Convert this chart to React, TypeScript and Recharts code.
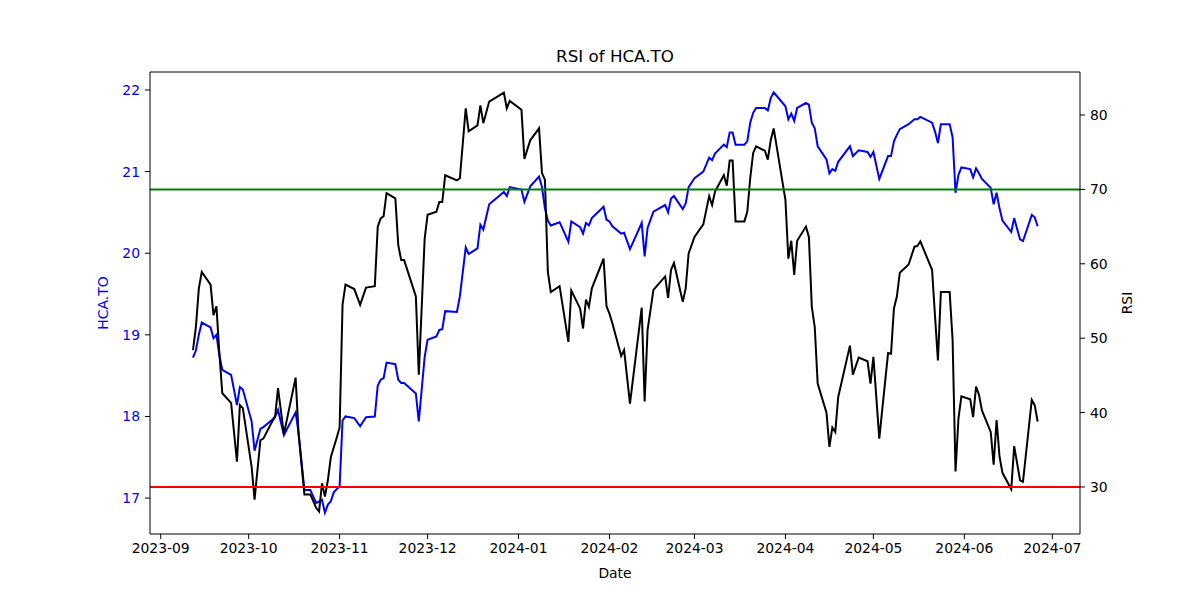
import React from 'react';
import { ComposedChart, Line, XAxis, YAxis, ReferenceLine } from 'recharts';

const dates = [
  '2023-09-12','2023-09-13','2023-09-14','2023-09-15','2023-09-18','2023-09-19','2023-09-20','2023-09-21','2023-09-22','2023-09-25','2023-09-27','2023-09-28','2023-09-29',
  '2023-10-02','2023-10-03','2023-10-05','2023-10-06','2023-10-09','2023-10-10','2023-10-11','2023-10-13','2023-10-17','2023-10-18','2023-10-20','2023-10-22','2023-10-24','2023-10-25','2023-10-26','2023-10-27','2023-10-28','2023-10-29','2023-10-30','2023-10-31',
  '2023-11-01','2023-11-02','2023-11-03','2023-11-06','2023-11-08','2023-11-10','2023-11-13','2023-11-14','2023-11-15','2023-11-16','2023-11-17','2023-11-20','2023-11-21','2023-11-22','2023-11-23','2023-11-27','2023-11-28','2023-11-30',
  '2023-12-01','2023-12-04','2023-12-05','2023-12-06','2023-12-07','2023-12-11','2023-12-12','2023-12-14','2023-12-15','2023-12-18','2023-12-19','2023-12-20','2023-12-22','2023-12-27','2023-12-28','2023-12-29',
  '2024-01-02','2024-01-03','2024-01-05','2024-01-08','2024-01-09','2024-01-10','2024-01-11','2024-01-12','2024-01-15','2024-01-18','2024-01-19','2024-01-22','2024-01-23','2024-01-24','2024-01-25','2024-01-26','2024-01-30','2024-01-31',
  '2024-02-01','2024-02-02','2024-02-05','2024-02-06','2024-02-08','2024-02-12','2024-02-13','2024-02-14','2024-02-16','2024-02-20','2024-02-21','2024-02-22','2024-02-23','2024-02-26','2024-02-27','2024-02-28',
  '2024-03-01','2024-03-04','2024-03-06','2024-03-07','2024-03-08','2024-03-11','2024-03-12','2024-03-13','2024-03-14','2024-03-15','2024-03-18','2024-03-19','2024-03-20','2024-03-21','2024-03-22','2024-03-25','2024-03-26','2024-03-27','2024-03-28',
  '2024-04-01','2024-04-02','2024-04-03','2024-04-04','2024-04-05','2024-04-08','2024-04-09','2024-04-10','2024-04-11','2024-04-12','2024-04-15','2024-04-16','2024-04-17','2024-04-18','2024-04-19','2024-04-23','2024-04-24','2024-04-26','2024-04-29','2024-04-30',
  '2024-05-01','2024-05-03','2024-05-06','2024-05-07','2024-05-08','2024-05-09','2024-05-10','2024-05-13','2024-05-15','2024-05-16','2024-05-17','2024-05-21','2024-05-22','2024-05-23','2024-05-24','2024-05-27','2024-05-28','2024-05-29','2024-05-30','2024-05-31',
  '2024-06-03','2024-06-04','2024-06-05','2024-06-06','2024-06-07','2024-06-10','2024-06-11','2024-06-12','2024-06-13','2024-06-14','2024-06-17','2024-06-18','2024-06-20','2024-06-21','2024-06-24','2024-06-25','2024-06-26',
];

const closePrice = [
  18.72,18.81,19.0,19.15,19.09,18.96,19.0,18.75,18.57,18.51,18.14,18.36,18.33,
  17.94,17.58,17.85,17.87,17.96,18.0,18.08,17.77,18.05,17.8,17.1,17.1,16.94,16.96,16.98,16.82,16.92,16.96,17.07,17.11,
  17.14,17.95,18.0,17.98,17.88,17.99,18.0,18.38,18.45,18.47,18.66,18.64,18.45,18.41,18.41,18.28,17.94,18.73,
  18.94,18.98,19.06,19.07,19.29,19.28,19.47,20.07,19.99,20.06,20.35,20.29,20.6,20.75,20.7,20.81,
  20.78,20.63,20.82,20.94,20.81,20.55,20.4,20.34,20.38,20.14,20.39,20.32,20.24,20.37,20.34,20.43,20.57,20.41,
  20.39,20.33,20.24,20.25,20.05,20.37,19.96,20.31,20.51,20.59,20.5,20.67,20.7,20.54,20.61,20.81,
  20.92,21.0,21.17,21.14,21.22,21.33,21.3,21.48,21.48,21.33,21.33,21.37,21.6,21.72,21.78,21.78,21.75,21.9,21.97,
  21.8,21.64,21.71,21.62,21.78,21.84,21.82,21.6,21.53,21.31,21.15,20.98,21.03,21.01,21.12,21.31,21.19,21.26,21.24,21.18,
  21.24,20.91,21.19,21.19,21.37,21.45,21.52,21.58,21.64,21.64,21.67,21.6,21.49,21.35,21.58,21.58,21.42,20.74,20.96,21.05,
  21.03,20.93,21.04,20.98,20.91,20.8,20.6,20.74,20.55,20.4,20.26,20.43,20.17,20.15,20.47,20.44,20.33,
];

const rsiValues = [
  48.4,51.5,56.7,58.9,57.2,53.1,54.3,48.0,42.6,41.3,33.4,41.0,40.6,
  32.7,28.3,36.3,36.5,38.8,39.4,43.3,37.1,44.7,37.2,29.0,29.0,27.2,26.7,30.5,28.7,30.9,34.0,35.3,36.6,
  38.0,54.5,57.2,56.6,54.5,56.8,57.0,65.0,66.1,66.4,69.5,68.8,62.5,60.5,60.5,55.6,45.1,63.4,
  66.6,67.0,68.3,68.3,71.9,71.2,71.5,80.9,77.8,78.6,81.3,78.9,81.8,83.0,80.9,81.9,
  80.7,74.1,76.6,78.2,72.2,71.3,58.9,56.2,57.0,49.5,56.4,54.0,51.3,55.2,54.2,56.7,60.7,54.3,
  53.3,52.0,47.6,48.4,41.2,54.1,41.5,51.1,56.5,58.3,55.4,59.2,60.1,54.9,56.7,61.4,
  63.6,65.3,69.1,67.9,69.7,71.9,70.5,73.9,73.9,65.7,65.7,67.0,71.5,74.9,75.8,75.2,74.0,76.6,78.2,
  68.6,60.7,63.1,58.5,63.1,65.0,63.6,54.2,51.5,43.9,40.0,35.4,38.0,37.4,42.1,49.0,45.1,47.4,46.9,43.9,
  47.5,36.5,48.0,47.9,54.0,55.6,58.8,59.9,62.3,62.4,63.0,59.2,53.0,47.0,56.2,56.2,49.8,32.1,39.2,42.2,
  41.8,39.4,43.5,42.4,40.3,37.4,33.0,39.0,34.1,31.9,29.7,35.5,30.9,30.7,41.7,41.0,38.8,
];

const monthTicks = [
  '2023-09-01','2023-10-01','2023-11-01','2023-12-01','2024-01-01','2024-02-01',
  '2024-03-01','2024-04-01','2024-05-01','2024-06-01','2024-07-01',
];
const priceTicks = [17, 18, 19, 20, 21, 22];
const rsiTicks = [30, 40, 50, 60, 70, 80];
const priceDomain = [16.56, 22.22];
const rsiDomain = [23.68, 85.78];

const toMs = (s: string) => Date.parse(s + 'T00:00:00Z');
const DAY = 86400000;

const data = dates.map((d, i) => ({ t: toMs(d), price: closePrice[i], rsi: rsiValues[i] }));
const xTicks = monthTicks.map(toMs);
const xDomain = [toMs('2023-09-01') - 3.65 * DAY, toMs('2024-07-01') + 9.44 * DAY];

const fmtMonth = (v: number) => {
  const d = new Date(v);
  const m = d.getUTCMonth() + 1;
  return `${d.getUTCFullYear()}-${m < 10 ? '0' + m : m}`;
};

const FONT = 'DejaVu Sans, sans-serif';
const tickStyle = { fontSize: 13.9, fontFamily: FONT, fill: '#000' };

export default function App() {
  return (
    <div style={{ position: 'relative', width: 1200, height: 600, background: '#fff' }}>
      <style>{`body{margin:0;}`}</style>
      <ComposedChart
        width={1200}
        height={600}
        data={data}
        margin={{ top: 72, right: 0, bottom: 0, left: 0 }}
      >
        <XAxis
          dataKey="t"
          type="number"
          domain={xDomain}
          allowDataOverflow
          ticks={xTicks}
          tickFormatter={fmtMonth}
          height={66}
          tick={tickStyle}
          tickSize={5}
          tickMargin={4}
          stroke="#000"
          interval={0}
        />
        <YAxis
          yAxisId="left"
          domain={priceDomain}
          allowDataOverflow
          ticks={priceTicks}
          width={150}
          tick={{ ...tickStyle, fill: '#0000ff' }}
          tickSize={5}
          tickMargin={5}
          stroke="#000"
          interval={0}
        />
        <YAxis
          yAxisId="right"
          orientation="right"
          domain={rsiDomain}
          allowDataOverflow
          ticks={rsiTicks}
          width={120}
          tick={tickStyle}
          tickSize={5}
          tickMargin={5}
          stroke="#000"
          interval={0}
        />
        <Line
          yAxisId="left"
          type="linear"
          dataKey="price"
          stroke="#0000ff"
          strokeWidth={2}
          dot={false}
          isAnimationActive={false}
        />
        <Line
          yAxisId="right"
          type="linear"
          dataKey="rsi"
          stroke="#000000"
          strokeWidth={2}
          dot={false}
          isAnimationActive={false}
        />
        <ReferenceLine yAxisId="right" y={70} stroke="#008000" strokeWidth={2} />
        <ReferenceLine yAxisId="right" y={30} stroke="#ff0000" strokeWidth={2} />
        <ReferenceLine yAxisId="left" y={priceDomain[1]} stroke="#000" strokeWidth={1} ifOverflow="visible" />
      </ComposedChart>
      <svg
        width={1200}
        height={600}
        style={{ position: 'absolute', left: 0, top: 0, pointerEvents: 'none' }}
      >
        <text x={615} y={62} textAnchor="middle" fontSize={16.7} fontFamily={FONT} fill="#000">
          RSI of HCA.TO
        </text>
        <text x={615} y={578} textAnchor="middle" fontSize={13.9} fontFamily={FONT} fill="#000">
          Date
        </text>
        <text
          x={0}
          y={0}
          transform="translate(108,303) rotate(-90)"
          textAnchor="middle"
          fontSize={13.9}
          fontFamily={FONT}
          fill="#0000ff"
        >
          HCA.TO
        </text>
        <text
          x={0}
          y={0}
          transform="translate(1132,303) rotate(-90)"
          textAnchor="middle"
          fontSize={13.9}
          fontFamily={FONT}
          fill="#000"
        >
          RSI
        </text>
      </svg>
    </div>
  );
}
